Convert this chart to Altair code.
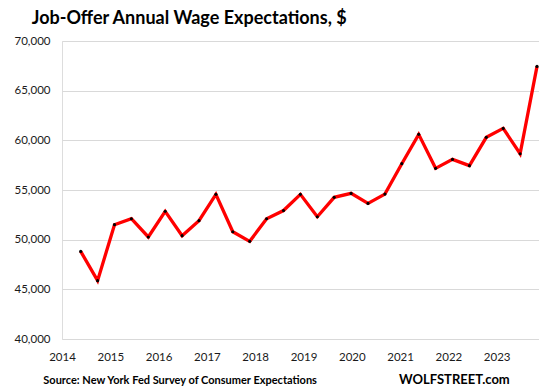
import altair as alt
import pandas as pd

# Survey waves (every 4 months: Mar, Jul, Nov)
waves = [
    "Jul 2014", "Nov 2014",
    "Mar 2015", "Jul 2015", "Nov 2015",
    "Mar 2016", "Jul 2016", "Nov 2016",
    "Mar 2017", "Jul 2017", "Nov 2017",
    "Mar 2018", "Jul 2018", "Nov 2018",
    "Mar 2019", "Jul 2019", "Nov 2019",
    "Mar 2020", "Jul 2020", "Nov 2020",
    "Mar 2021", "Jul 2021", "Nov 2021",
    "Mar 2022", "Jul 2022", "Nov 2022",
    "Mar 2023", "Jul 2023",
]
wage = [
    48820, 45870,
    51510, 52110, 50270,
    52850, 50400, 51910,
    54560, 50800, 49830,
    52110, 52930, 54560,
    52310, 54260, 54660,
    53650, 54590, 57650,
    60600, 57180, 58080,
    57450, 60300, 61200,
    58650, 67440,
]
years = list(range(2014, 2024))
y_ticks = [40000, 45000, 50000, 55000, 60000, 65000, 70000]

title_text = ["Job-Offer Annual Wage Expectations, $"]
source_text = ["Source: New York Fed Survey of Consumer Expectations"]
brand_text = ["WOLFSTREET.com"]

FONT = "Lato"
W, H = 477, 298

df = pd.DataFrame({"wave": waves, "wage": wage})
df["i"] = range(len(df))
yr = pd.DataFrame({"year": years})

yscale = alt.Scale(domain=[40000, 70000], nice=False, zero=False)
yaxis = alt.Axis(
    values=y_ticks, labelExpr="format(datum.value, ',')", grid=True,
    gridColor="#d9d9d9", gridWidth=1,
    domain=False, ticks=False, labelFont=FONT, labelFontSize=11.5,
    labelColor="#1a1a1a", labelPadding=12, title=None,
)
xs = alt.Scale(domain=[-1.1065, 27.118], nice=False, zero=False)

line = alt.Chart(df).mark_line(color="#ff0000", strokeWidth=3.3).encode(
    x=alt.X("i:Q", scale=xs, axis=None),
    y=alt.Y("wage:Q", scale=yscale, axis=yaxis),
)
pts = alt.Chart(df).mark_point(filled=True, color="black", size=10, opacity=1).encode(
    x=alt.X("i:Q", scale=xs, axis=None),
    y=alt.Y("wage:Q", scale=yscale, axis=yaxis),
    tooltip=["wave", "wage"],
)
year_axis = alt.Chart(yr).mark_tick(opacity=0).encode(
    x=alt.X(
        "year:Q",
        scale=alt.Scale(domain=[2014, 2014 + W / 48.3], nice=False, zero=False),
        axis=alt.Axis(
            values=years, format="d", grid=False, domain=False, ticks=False,
            labelFont=FONT, labelFontSize=11.5, labelColor="#1a1a1a",
            labelPadding=12, labelFlush=False, labelOverlap=False, title=None,
        ),
    )
)

title = alt.Chart(pd.DataFrame({"t": title_text})).mark_text(
    align="left", baseline="alphabetic", font=FONT, fontSize=18,
    fontWeight="bold", color="black",
).encode(x=alt.value(-30.3), y=alt.value(-17.3), text="t:N")

source = alt.Chart(pd.DataFrame({"t": source_text})).mark_text(
    align="left", baseline="alphabetic", font=FONT, fontSize=11,
    fontWeight="bold", color="black",
).encode(x=alt.value(-18.7), y=alt.value(342.7), text="t:N")

brand = alt.Chart(pd.DataFrame({"t": brand_text})).mark_text(
    align="left", baseline="alphabetic", font=FONT, fontSize=13,
    fontWeight="bold", color="black",
).encode(x=alt.value(337), y=alt.value(342.7), text="t:N")

chart = (
    alt.layer(year_axis, line, pts, title, source, brand)
    .resolve_scale(x="independent")
    .resolve_axis(x="independent")
    .properties(
        width=W, height=H,
        padding={"left": 54, "top": 33, "right": 0, "bottom": 51},
        autosize=alt.AutoSizeParams(type="none"),
    )
    .configure_view(stroke=None)
    .configure(background="white")
)

chart.save("out.html", embed_options={"renderer": "svg", "actions": False})
